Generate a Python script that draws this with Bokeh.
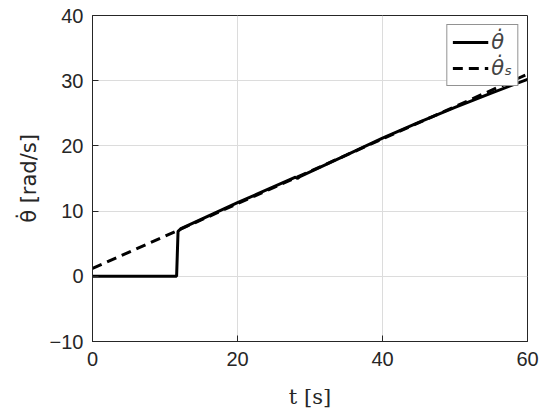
from bokeh.plotting import figure
from bokeh.models import Legend, LegendItem, FixedTicker
from bokeh.embed import file_html
from bokeh.resources import INLINE

# measured speed (solid)
t_meas = [0, 11.6, 11.8, 12.2, 20, 28, 28.3, 28.6, 35, 40, 45, 50, 55, 60]
w_meas = [0, 0, 6.9, 7.3, 11.3, 15.2, 15.0, 15.3, 18.6, 21.2, 23.6, 25.9, 28.1, 30.2]
# reference speed (dashed)
t_ref = [0, 60]
w_ref = [1.2, 31.0]

x_ticks = [0, 20, 40, 60]
y_ticks = [-10, 0, 10, 20, 30, 40]

p = figure(width=550, height=418, x_range=(0, 60), y_range=(-10, 40),
           output_backend="svg", toolbar_location=None,
           min_border_left=92, min_border_right=23, min_border_top=15, min_border_bottom=77)

r1 = p.line(t_meas, w_meas, line_color="black", line_width=3)
r2 = p.line(t_ref, w_ref, line_color="black", line_width=3, line_dash="10 6")

p.xaxis.ticker = FixedTicker(ticks=x_ticks)
p.yaxis.ticker = FixedTicker(ticks=y_ticks)
p.xaxis.major_label_overrides = {v: str(v) for v in x_ticks}
p.yaxis.major_label_overrides = {v: ("\u2212" + str(-v) if v < 0 else str(v)) for v in y_ticks}

for ax in (p.xaxis, p.yaxis):
    ax.major_label_text_font = "Liberation Sans"
    ax.major_label_text_font_size = "20px"
    ax.major_label_text_color = "#262626"
    ax.axis_line_color = "#262626"
    ax.major_tick_line_color = "#262626"
    ax.major_tick_in = 6
    ax.major_tick_out = 0
    ax.minor_tick_line_color = None
    ax.axis_label_text_font_style = "normal"
    ax.axis_label_text_font_size = "21px"
    ax.axis_label_text_color = "#262626"

p.xaxis.axis_label = "t [s]"
p.xaxis.axis_label_text_font = "DejaVu Serif"
p.yaxis.axis_label = "\u03b8\u0307 [rad/s]"
p.yaxis.axis_label_text_font = "DejaVu Sans"
p.xaxis.major_label_standoff = 10
p.yaxis.major_label_standoff = 9
p.xaxis.axis_label_standoff = 16
p.yaxis.axis_label_standoff = 6

p.grid.grid_line_color = "#dcdcdc"
p.grid.grid_line_width = 1
p.outline_line_color = "#262626"
p.outline_line_alpha = 1
p.background_fill_color = "white"
p.border_fill_color = "white"

legend = Legend(items=[LegendItem(label="\u03b8\u0307", renderers=[r1]),
                       LegendItem(label="\u03b8\u0307\u209b", renderers=[r2])],
                location="top_right")
legend.label_text_font = "DejaVu Sans"
legend.label_text_font_style = "italic"
legend.label_text_font_size = "21px"
legend.glyph_width = 36
legend.label_standoff = 3
legend.spacing = 2
legend.padding = 5
legend.margin = 9
legend.border_line_color = "#262626"
legend.border_line_width = 1
legend.background_fill_alpha = 1
p.add_layout(legend)

open("out.html", "w").write(file_html(p, INLINE))
